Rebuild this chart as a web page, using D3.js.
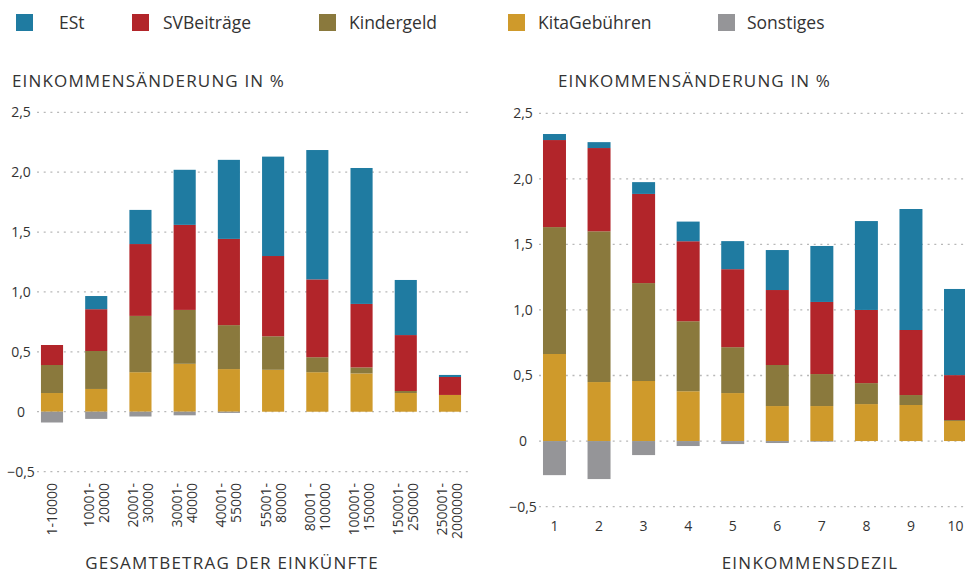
<!DOCTYPE html>
<html>
<head>
<meta charset="utf-8">
<script src="https://cdn.jsdelivr.net/npm/d3@7"></script>
<style>
  body { margin: 0; background: #fff; }
  svg { font-family: "Open Sans", sans-serif; }
</style>
</head>
<body>
<div id="chart"></div>
<script>
// Datos
const seriesKeys = ["ESt", "SVBeiträge", "Kindergeld", "KitaGebühren", "Sonstiges"];
const stackOrder = ["KitaGebühren", "Kindergeld", "SVBeiträge", "ESt", "Sonstiges"];

const leftCategories = ["1-10000", "10001-\n20000", "20001-\n30000", "30001-\n40000", "40001-\n55000",
    "55001-\n80000", "80001 -\n100000", "100001-\n150000", "150001-\n250000", "250001-\n2000000"];
const leftESt = [0, 0.11, 0.285, 0.46, 0.66, 0.83, 1.08, 1.135, 0.46, 0.017];
const leftSV = [0.167, 0.349, 0.60, 0.71, 0.72, 0.67, 0.65, 0.53, 0.467, 0.15];
const leftKinder = [0.234, 0.317, 0.47, 0.45, 0.367, 0.28, 0.125, 0.05, 0.017, 0];
const leftKita = [0.156, 0.19, 0.33, 0.40, 0.356, 0.35, 0.33, 0.32, 0.156, 0.14];
const leftSonst = [-0.09, -0.06, -0.04, -0.03, -0.01, 0, 0, 0, 0, 0];

const rightCategories = ["1", "2", "3", "4", "5", "6", "7", "8", "9", "10"];
const rightESt = [0.046, 0.045, 0.09, 0.15, 0.214, 0.305, 0.427, 0.678, 0.923, 0.657];
const rightSV = [0.664, 0.635, 0.68, 0.61, 0.595, 0.572, 0.55, 0.558, 0.496, 0.343];
const rightKinder = [0.968, 1.15, 0.747, 0.534, 0.35, 0.313, 0.244, 0.16, 0.076, 0.007];
const rightKita = [0.664, 0.45, 0.458, 0.38, 0.366, 0.267, 0.267, 0.282, 0.275, 0.153];
const rightSonst = [-0.26, -0.29, -0.107, -0.038, -0.023, -0.015, -0.005, 0, 0, 0];

const yTicks = [-0.5, 0, 0.5, 1.0, 1.5, 2.0, 2.5];

const colors = {
    "ESt": "#1f7ba1",
    "SVBeiträge": "#b2252a",
    "Kindergeld": "#8a793d",
    "KitaGebühren": "#cf9a2b",
    "Sonstiges": "#959598"
};

const width = 965;
const height = 574;

const svg = d3.select("#chart")
    .append("svg")
    .attr("width", width)
    .attr("height", height);

const fmt = v => v === 0 ? "0" : d3.format(".1f")(v).replace(".", ",");

// Leyenda
const legendX = [16, 132, 319, 508, 718];
const legendTextX = [59, 163, 349, 538, 747];
seriesKeys.forEach((k, i) => {
    svg.append("rect")
        .attr("x", legendX[i])
        .attr("y", 14)
        .attr("width", 17)
        .attr("height", 17)
        .attr("fill", colors[k]);
    svg.append("text")
        .attr("x", legendTextX[i])
        .attr("y", 29)
        .style("font-size", "17.5px")
        .attr("fill", "#333")
        .text(k);
});

function drawPanel(opts) {
    const rows = opts.categories.map((c, i) => ({
        cat: c,
        "ESt": opts.est[i],
        "SVBeiträge": opts.sv[i],
        "Kindergeld": opts.kinder[i],
        "KitaGebühren": opts.kita[i],
        "Sonstiges": opts.sonst[i]
    }));

    const x = d3.scaleBand()
        .domain(opts.categories)
        .range(opts.xRange)
        .paddingInner(opts.padding)
        .paddingOuter(opts.padding / 2);

    const y = d3.scaleLinear()
        .domain([-0.5, 2.5])
        .range(opts.yRange);

    const g = svg.append("g");

    // titulo eje y
    g.append("text")
        .attr("x", opts.titleX)
        .attr("y", 87)
        .style("font-size", "17px")
        .style("letter-spacing", "1.15px")
        .attr("fill", "#333")
        .text("EINKOMMENSÄNDERUNG IN %");

    // lineas de la rejilla
    g.selectAll("line.grid")
        .data(yTicks)
        .enter()
        .append("line")
        .attr("class", "grid")
        .attr("x1", opts.gridX[0])
        .attr("x2", opts.gridX[1])
        .attr("y1", d => y(d))
        .attr("y2", d => y(d))
        .attr("stroke", "#b8b8b8")
        .attr("stroke-width", 1.3)
        .attr("stroke-dasharray", "2,4.7");

    g.selectAll("text.ytick")
        .data(yTicks)
        .enter()
        .append("text")
        .attr("class", "ytick")
        .attr("x", opts.tickX)
        .attr("y", d => y(d))
        .attr("dy", "0.35em")
        .attr("text-anchor", "middle")
        .style("font-size", "14px")
        .attr("fill", "#333")
        .text(fmt);

    const stack = d3.stack()
        .keys(stackOrder)
        .offset(d3.stackOffsetDiverging);

    const layers = stack(rows);

    g.selectAll("g.layer")
        .data(layers)
        .enter()
        .append("g")
        .attr("class", "layer")
        .attr("fill", d => colors[d.key])
        .selectAll("rect")
        .data(d => d)
        .enter()
        .append("rect")
        .attr("x", d => x(d.data.cat))
        .attr("width", x.bandwidth())
        .attr("y", d => y(Math.max(d[0], d[1])))
        .attr("height", d => Math.abs(y(d[0]) - y(d[1])));

    opts.drawXLabels(g, x);

    g.append("text")
        .attr("x", opts.xTitleX)
        .attr("y", 569)
        .attr("text-anchor", "middle")
        .style("font-size", "17px")
        .style("letter-spacing", "1.25px")
        .attr("fill", "#333")
        .text(opts.xTitle);
}

drawPanel({
    categories: leftCategories,
    est: leftESt, sv: leftSV, kinder: leftKinder, kita: leftKita, sonst: leftSonst,
    xRange: [29.9, 472.1],
    padding: 0.5,
    yRange: [471.6, 112.3],
    gridX: [37, 472],
    tickX: 21,
    titleX: 12,
    xTitle: "GESAMTBETRAG DER EINKÜNFTE",
    xTitleX: 232,
    drawXLabels: (g, x) => {
        leftCategories.forEach(c => {
            const lines = c.split("\n");
            const t = g.append("text")
                .attr("transform", `translate(${x(c) + x.bandwidth() / 2}, 483) rotate(-90)`)
                .attr("text-anchor", "end")
                .style("font-size", "14px")
                .attr("fill", "#333");
            lines.forEach((line, i) => {
                t.append("tspan")
                    .attr("x", 0)
                    .attr("y", (i - (lines.length - 1) / 2) * 15)
                    .attr("dy", "0.35em")
                    .text(line);
            });
        });
    }
});

drawPanel({
    categories: rightCategories,
    est: rightESt, sv: rightSV, kinder: rightKinder, kita: rightKita, sonst: rightSonst,
    xRange: [532.2, 977.8],
    padding: 0.484,
    yRange: [506.6, 113.3],
    gridX: [539, 965],
    tickX: 523,
    titleX: 558,
    xTitle: "EINKOMMENSDEZIL",
    xTitleX: 810,
    drawXLabels: (g, x) => {
        g.selectAll("text.xtick")
            .data(rightCategories)
            .enter()
            .append("text")
            .attr("class", "xtick")
            .attr("x", d => x(d) + x.bandwidth() / 2)
            .attr("y", 531)
            .attr("text-anchor", "middle")
            .style("font-size", "14px")
            .attr("fill", "#333")
            .text(d => d);
    }
});
</script>
</body>
</html>
